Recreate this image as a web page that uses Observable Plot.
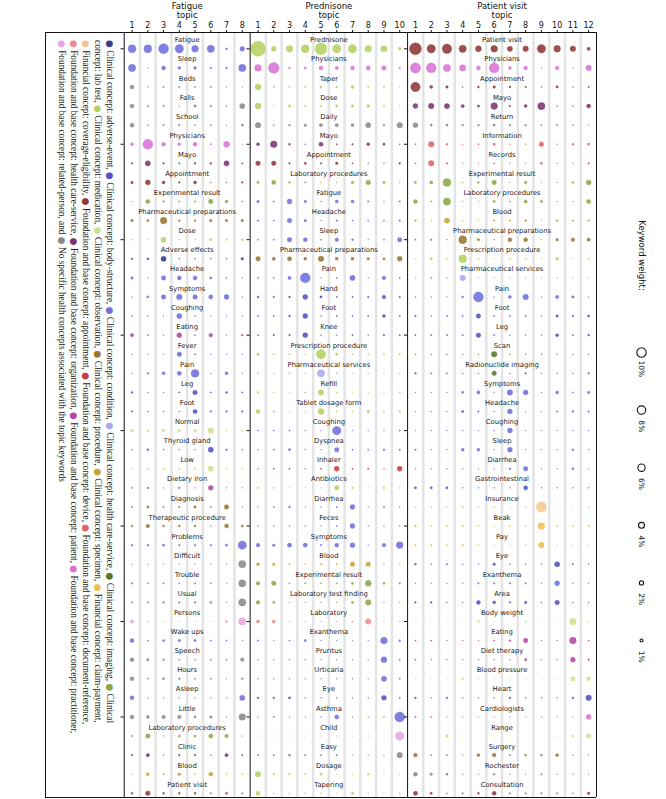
<!DOCTYPE html>
<html><head><meta charset="utf-8">
<script src="https://cdn.jsdelivr.net/npm/d3@7"></script>
<script src="https://cdn.jsdelivr.net/npm/@observablehq/plot@0.6"></script>
<style>
body{margin:0;background:#fff;}
#wrap{position:relative;width:666px;height:799px;font-family:"DejaVu Sans",sans-serif;}
#legend{position:absolute;left:116px;top:40px;transform-origin:0 0;transform:rotate(90deg);font-family:"Liberation Serif",serif;font-size:9.3px;line-height:12px;white-space:nowrap;color:#222;}
#legend .b{font-family:"DejaVu Sans",sans-serif;font-size:9px;}
</style></head><body><div id="wrap"><div id="legend"></div></div>
<script>
// ---------------- data ----------------
const topics = ["Fatigue", "Prednisone", "Patient visit"];
const topicColumns = [8, 10, 12];

const categoryCodes = ["AE","BS","CO","HS","IM","LT","ME","OB","PR","SP","CP","CE","AP","DE","DR","FH","OR","PA","PT","RP","NO"];
const categoryNames = [
  "Clinical concept: adverse-event","Clinical concept: body-structure","Clinical concept: condition",
  "Clinical concept: health care-service","Clinical concept: imaging","Clinical concept: lab test",
  "Clinical concept: medication","Clinical concept: observation","Clinical concept: procedure",
  "Clinical concept: specimen","Financial concept: claim-payment","Financial concept: coverage-eligibility",
  "Foundation and base concept: appointment","Foundation and base concept: device",
  "Foundation and base concept: document-reference","Foundation and base concept: health care-service",
  "Foundation and base concept: organization","Foundation and base concept: patient",
  "Foundation and base concept: practitioner","Foundation and base concept: related-person",
  "No specific health concepts associated with the topic keywords"];
const categoryColors = ["#3a3a8e","#5252c2","#6e6ede","#a9a9ee","#56782a","#8aa845","#b5d262","#cde290",
  "#9a7432","#caa136","#efbf4e","#f1c98f","#8e3737","#c43f3f","#e06262","#ea8d8d","#7c3474","#b148a4",
  "#d873d6","#e9a3e3","#8a8a8a"];

const fatigueKeywords = ["Fatigue","Sleep","Beds","Falls","School","Physicians","Mayo","Appointment","Experimental result","Pharmaceutical preparations","Dose","Adverse effects","Headache","Symptoms","Coughing","Eating","Fever","Pain","Leg","Foot","Normal","Thyroid gland","Low","Dietary iron","Diagnosis","Therapeutic procedure","Problems","Difficult","Trouble","Usual","Persons","Wake ups","Speech","Hours","Asleep","Little","Laboratory procedures","Clinic","Blood","Patient visit"];
const fatigueCategories = ["CO","CO","NO","NO","NO","PT","OR","AP","LT","PR","ME","AE","CO","CO","CO","PA","CO","CO","BS","BS","OB","BS","OB","PA","PR","PR","CO","NO","NO","NO","RP","CO","NO","NO","CO","NO","LT","OR","SP","AP"];
const fatigueWeights = [
  [7,7,11,8,5,6,0.4,2.5],[6,0.1,1.8,0.8,0.8,0.3,0.4,6],[1.8,0.1,0.3,0.3,0.3,0.3,0.1,0.1],[1.8,0.3,0.3,0.1,0.7,0.4,0.2,3],
  [1.8,0.2,0.3,0.3,0.2,0.2,0.1,0.6],[1,11,1.8,1,1.8,0.3,4,0.1],[0.3,3,0.3,0.2,0.4,0.4,3,0.2],[0.7,2.8,1,0.3,1,0.1,0.1,0.3],
  [0.1,2,0.4,0.3,0.3,2.3,1,0.2],[0.7,0.6,5,0.4,0.4,0.7,0.7,0.7],[0.2,0.1,3,0.2,0.1,0.6,0.3,0.4],[0.3,0.4,3,0.1,0.1,0.1,0.1,0.7],
  [0.7,0.1,2.3,1.8,1.8,0.6,0.2,0.1],[0.1,0.6,2.3,3.5,2.3,2,2.8,0.1],[0.2,0.1,0.1,3,0.2,0.1,0.1,0.1],[1.2,0.2,0.1,2.8,0.2,1.5,0.1,0.4],
  [0.1,0.1,0.1,2.3,0.3,0.1,0.1,0.1],[0.1,0.4,1,2,7,0.1,1,0.1],[0.4,0.1,0.1,0.2,2.3,0.2,0.4,0.2],[0.3,0.1,0.1,0.1,2,0.3,0.3,0.3],
  [1,0.6,1,1,1,4,0.2,0.3],[0.1,0.4,0.1,0.1,0.1,3,0.3,0.1],[0.2,0.4,0.4,0.4,0.4,3.5,0.3,0.3],[0.2,0.4,0.1,0.3,0.1,2.8,0.1,0.1],
  [0.2,0.6,0.2,0.3,0.7,0.2,2.3,0.1],[0.4,1.5,0.4,0.4,0.4,0.1,1.8,0.6],[0.4,0.4,0.6,0.3,0.3,0.3,0.6,8],[0.1,0.1,0.1,0.1,0.1,0.1,0.1,6],
  [0.4,0.2,0.3,0.2,0.3,0.2,0.1,6],[0.3,0.3,0.4,0.4,0.4,0.6,0.1,6],[1.2,0.2,0.1,0.1,0.1,0.1,0.7,6],[1.8,0.2,0.6,0.7,0.6,0.2,0.2,0.1],
  [1.8,0.7,0.4,0.2,0.2,0.2,0.2,1.5],[1.8,0.2,0.6,0.4,0.2,0.2,0.1,0.4],[1.8,0.1,0.1,0.1,0.1,0.1,0.1,3],[1.8,1,1.5,1.5,0.6,0.7,0.1,5],
  [0.3,2.3,0.1,0.6,0.6,2,1.5,0.1],[0.3,1.2,0.1,0.3,0.3,0.1,1.2,0.2],[0.1,1,0.2,1,0.1,1.8,0.1,0.1],[0.4,2.3,0.4,0.4,0.4,0.2,0.4,0.2]];

const prednisoneKeywords = ["Prednisone","Physicians","Taper","Dose","Daily","Mayo","Appointment","Laboratory procedures","Fatigue","Headache","Sleep","Pharmaceutical preparations","Pain","Hand","Foot","Knee","Prescription procedure","Pharmaceutical services","Refill","Tablet dosage form","Coughing","Dyspnea","Inhaler","Antibiotics","Diarrhea","Feces","Symptoms","Blood","Experimental result","Laboratory test finding","Laboratory","Exanthema","Pruritus","Urticaria","Eye","Asthma","Child","Easy","Dosage","Tapering"];
const prednisoneCategories = ["ME","PT","ME","ME","NO","OR","AP","LT","CO","CO","CO","PR","CO","BS","BS","BS","ME","HS","ME","ME","CO","CO","DE","ME","CO","CO","CO","SP","LT","LT","FH","CO","CO","CO","BS","CO","RP","NO","ME","ME"];
const prednisoneWeights = [
  [25,2.8,5,7,16,8,8,5,4.5,1],[5,13,0.4,0.6,1.8,1.2,1.8,2,2.3,0.3],[4,0.3,0.2,0.3,0.6,0.4,1.2,0.2,0.3,0.1],[4,0.1,0.7,0.3,0.4,0.7,0.7,1,0.3,0.1],
  [3.5,0.2,0.4,0.7,1.2,1.2,1,3,0.4,3.5],[1,5,0.4,0.1,2,0.2,0.3,1,0.6,0.1],[2.3,2.3,0.3,0.6,0.3,0.7,0.2,0.1,0.1,0.4],[0.6,2,0.4,0.2,0.1,0.1,0.7,2.3,0.6,0.1],
  [0.7,0.2,2.8,0.7,0.1,1,1,0.3,0.1,0.3],[0.3,0.2,2.3,0.7,0.1,0.3,0.2,0.2,0.2,0.3],[0.2,0.2,2.3,1.8,0.2,1.5,0.4,0.1,0.2,2.3],[2.3,1.2,2,1,3.5,1,1,0.7,0.6,2.8],
  [0.2,0.2,1.2,11,0.1,0.2,3,0.1,1.5,0.2],[0.4,0.3,0.4,2.8,0.6,0.2,0.2,0.3,1.5,0.3],[0.2,0.2,0.4,2.8,0.1,0.2,0.2,0.2,1,0.2],[0.2,0.3,0.3,2.8,0.1,0.1,0.2,0.1,0.3,0.2],
  [0.7,0.2,0.3,0.1,10,0.7,0.2,0.2,0.2,0.3],[0.2,0.1,0.2,0.1,6,0.2,0.1,0.1,0.1,0.1],[0.4,0.2,0.1,0.2,3.5,0.2,0.1,0.1,0.1,0.2],[1.8,0.3,0.1,0.1,4,0.2,0.2,0.7,0.2,0.4],
  [0.2,0.2,0.2,0.1,0.1,8,0.1,0.1,0.1,0.2],[0.1,0.2,0.6,0.1,0.1,2.3,0.2,0.2,0.4,0.3],[0.1,0.2,0.2,0.1,0.2,2.8,0.2,0.2,0.1,2.8],[0.3,0.2,0.1,0.1,0.1,2.3,0.4,0.1,0.4,0.2],
  [0.1,0.2,0.4,0.1,0.1,0.2,2.8,0.1,0.2,0.1],[0.1,0.1,0.1,0.1,0.1,0.2,2.8,0.1,0.1,0.1],[1.5,0.7,2,2,0.3,1.8,2.8,0.1,1.5,5],[1,0.7,0.2,0.1,0.2,0.2,2.3,2.3,0.1,0.1],
  [1.5,2.3,0.2,0.3,0.2,0.2,0.6,4,0.6,0.4],[1.5,0.6,0.1,0.1,0.1,0.1,0.6,3.5,0.1,0.1],[1.2,1.2,0.1,0.1,0.1,0.1,0.2,3.5,0.1,0.1],[0.3,0.1,0.2,0.6,0.1,0.1,0.1,0.1,5,0.4],
  [0.1,0.1,0.1,0.1,0.1,0.1,0.1,0.1,4,0.2],[0.1,0.1,0.1,0.1,0.1,0.1,0.1,0.1,3,0.2],[0.4,0.4,0.6,0.1,0.1,0.1,0.1,0.1,2.8,0.2],[0.1,0.2,0.1,0.1,0.1,2,0.1,0.1,0.1,11],
  [0.1,0.1,0.1,0.1,0.1,0.1,0.1,0.1,0.1,8],[0.3,0.3,0.6,0.3,0.3,0.3,0.1,0.1,0.1,3.5],[3.5,0.3,0.3,0.2,0.6,0.1,0.1,0.4,0.1,0.1],[1.8,0.2,0.2,0.2,0.2,0.1,0.7,0.1,0.1,0.2]];

const visitKeywords = ["Patient visit","Physicians","Appointment","Mayo","Return","Information","Records","Experimental result","Laboratory procedures","Blood","Pharmaceutical preparations","Prescription procedure","Pharmaceutical services","Pain","Foot","Leg","Scan","Radionuclide imaging","Symptoms","Headache","Coughing","Sleep","Diarrhea","Gastrointestinal","Insurance","Beak","Pay","Eye","Exanthema","Area","Body weight","Eating","Diet therapy","Blood pressure","Heart","Cardiologists","Range","Surgery","Rochester","Consultation"];
const visitCategories = ["AP","PT","AP","OR","NO","DR","DR","LT","LT","SP","PR","ME","HS","CO","BS","BS","IM","IM","CO","CO","CO","CO","CO","BS","CE","CP","CP","BS","CO","BS","OB","PA","PA","OB","BS","PT","OB","PR","NO","AP"];
const visitWeights = [
  [16,8,10,6,4,5,3,3.5,8,5,3.5,1.2],[12,11,6,4.5,1.8,11,1,1.8,0.1,1.5,0.1,3.5],[10,1,0.7,0.1,0.4,0.7,0.4,0.3,0.1,0.6,0.1,0.2],[2.8,3.5,3,1.2,0.6,5,0.3,1,6,0.1,0.1,1.8],
  [2.8,0.6,0.6,0.4,0.4,0.6,0.4,0.4,0.2,0.3,0.2,0.1],[0.2,3.5,0.4,0.1,0.2,0.6,0.1,0.1,2.3,0.1,0.4,0.6],[0.2,3.5,0.4,0.1,0.1,0.2,0.1,0.1,0.6,0.1,0.1,0.4],[0.6,1.2,7,0.1,0.4,2.3,0.1,0.7,0.1,0.1,0.4,2.8],
  [1.8,0.2,6,0.1,0.1,0.6,0.2,1.2,0.6,0.1,0.1,2],[0.4,0.1,3,0.1,0.1,0.3,0.3,0.6,0.1,0.4,0.3,0.4],[0.2,0.3,0.1,7,0.6,0.1,1.8,1.8,0.1,0.7,1.5,1.2],[0.1,0.7,0.2,7,0.2,0.1,0.2,0.2,0.1,1,0.1,0.2],
  [0.1,0.4,0.2,3.5,0.1,0.1,0.1,0.1,0.1,0.1,0.1,0.1],[0.1,0.1,0.1,0.4,11,0.1,1,3.5,0.1,1.2,0.7,0.1],[0.3,0.1,0.2,0.2,2.3,0.2,0.2,0.2,0.1,0.7,0.3,0.6],[0.2,0.2,0.2,0.2,2.3,0.2,0.1,0.1,0.1,1,0.2,0.4],
  [0.1,0.1,0.1,0.1,0.1,3.5,0.1,0.1,0.1,0.1,0.1,0.1],[0.4,0.2,0.2,0.1,0.1,2.3,0.1,0.3,0.1,0.1,0.1,0.3],[0.1,0.1,0.1,0.6,1.2,0.1,3.5,2.8,0.1,1,0.2,0.7],[0.1,0.1,0.1,0.7,0.3,0.1,2.8,0.1,0.1,0.3,0.4,0.3],
  [0.1,0.1,0.1,0.1,0.1,0.1,2.8,0.1,0.1,0.1,0.1,0.1],[0.3,0.1,0.1,1,1,0.1,2.8,0.1,0.1,0.1,0.4,0.1],[0.1,0.1,0.1,0.1,0.1,0.1,0.4,2.3,0.1,0.1,0.6,0.1],[0.6,0.6,0.6,0.1,0.1,0.1,0.1,2,0.1,0.1,0.1,0.1],
  [0.2,0.2,0.2,0.4,0.2,0.2,0.1,0.2,12,0.1,0.1,0.2],[0.4,0.2,0.3,0.2,0.2,0.1,0.2,0.2,5,0.2,0.2,0.3],[0.3,0.3,0.2,0.4,0.2,0.1,0.1,0.2,3.5,0.1,0.1,0.1],[0.4,0.1,0.2,0.1,0.1,0.7,0.1,0.1,0.1,3,0.2,0.1],
  [0.1,0.1,0.1,0.1,0.3,0.3,0.3,0.3,0.1,2.8,0.1,0.1],[0.3,0.4,0.1,0.1,1.8,1,0.3,0.7,0.1,2.3,0.1,0.1],[0.1,0.1,0.1,0.1,0.6,0.1,0.1,0.3,0.1,0.1,5,0.2],[0.2,0.2,0.1,0.1,0.1,0.2,0.4,2.3,0.1,0.1,5,0.2],
  [0.2,0.1,0.1,0.1,0.1,0.1,0.1,0.7,0.1,0.1,2.8,0.3],[0.1,0.1,0.1,0.4,0.1,0.1,0.1,0.1,0.1,0.1,2.3,1.8],[0.4,0.1,0.4,0.1,0.1,0.1,0.4,0.1,0.1,0.1,0.4,3.5],[0.4,0.3,0.1,0.1,0.1,0.1,0.1,0.1,0.1,0.1,0.1,2.8],
  [0.1,0.1,1,0.1,0.1,0.1,0.1,0.1,0.1,0.1,0.6,2.3],[1.5,0.2,0.2,0.1,1,1.5,0.2,0.4,0.4,1,0.1,0.1],[1.8,0.7,0.6,0.1,0.1,0.4,0.1,0.1,0.3,0.1,0.1,0.1],[2,0.6,0.1,0.2,0.4,1.8,0.2,0.2,0.2,0.2,0.1,0.7]];

const legendSizes = [10, 8, 6, 4, 2, 1];
const legendSizeLabels = ["10%", "8%", "6%", "4%", "2%", "1%"];

// ---------------- layout ----------------
const W = 666, H = 799;
const X0 = 123.7, X1 = 596, TOP = 32, BOTTOM = 797, BOXLEFT = 45;
const nCols = 30, colW = (X1 - X0) / nCols, rowH = 19.09, yPad = 0.854;
const yMin = -yPad, yMax = yMin + (BOTTOM - TOP) / rowH;
const px = p => (p - X0) / colW;           // pixel -> x units
const py = p => (p - TOP) / rowH + yMin;    // pixel -> y units

const panels = [
  {keywords: fatigueKeywords, cats: fatigueCategories, weights: fatigueWeights},
  {keywords: prednisoneKeywords, cats: prednisoneCategories, weights: prednisoneWeights},
  {keywords: visitKeywords, cats: visitCategories, weights: visitWeights}];
const colorOf = c => categoryColors[categoryCodes.indexOf(c)];

const offsets = [0, 8, 18];
const dots = [], labels = [], headers = [];
panels.forEach((p, k) => {
  const off = offsets[k], n = topicColumns[k];
  headers.push({x: off + n / 2, text: topics[k] + "\ntopic"});
  p.keywords.forEach((kw, r) => {
    labels.push({x: off + n / 2, row: r, text: kw});
    p.weights[r].forEach((w, c) => dots.push({x: off + c + 0.5, row: r, w, color: colorOf(p.cats[r])}));
  });
});
const colCenters = d3.range(nCols).map(i => i + 0.5);
const localLabel = d => { const i = Math.floor(d); return i < 8 ? i + 1 : i < 18 ? i - 7 : i - 17; };
const gridLines = d3.range(1, nCols).filter(i => i !== 8 && i !== 18);
const borders = [0, 8, 18, 30];
const tickRows = [0, 5, 10, 15, 20, 25, 30, 35];
const leftTicks = [];
[0, 8, 18].forEach(b => tickRows.forEach(r => leftTicks.push({b, row: r})));

const sizeLegend = legendSizes.map((s, i) => ({s, label: legendSizeLabels[i], y: py(352 + i * 57.6)}));

const chart = Plot.plot({
  width: W, height: H,
  marginLeft: X0, marginRight: W - X1, marginTop: TOP, marginBottom: H - BOTTOM,
  x: {domain: [0, nCols], range: [X0, X1]},
  y: {domain: [yMin, yMax], range: [TOP, BOTTOM], axis: null},
  r: {type: "sqrt", domain: [0, 10], range: [0, 4.7]},
  color: {type: "identity"},
  style: {fontFamily: "DejaVu Sans, sans-serif", background: "white"},
  marks: [
    Plot.ruleX(gridLines, {stroke: "#e4e4e4", strokeWidth: 2.5}),
    Plot.dot(dots, {x: "x", y: "row", r: "w", fill: "color", fillOpacity: 0.88, stroke: "color", strokeWidth: 0.4}),
    Plot.text(labels, {x: "x", y: d => d.row - 0.45, text: "text", fontSize: 6.8, fill: "#1a1a1a"}),
    Plot.ruleX(borders, {stroke: "#111", strokeWidth: 1}),
    Plot.ruleY([yMin, yMax], {x1: px(BOXLEFT), x2: nCols, stroke: "#111", strokeWidth: 1}),
    Plot.ruleX([px(BOXLEFT)], {stroke: "#111", strokeWidth: 1}),
    Plot.ruleY(leftTicks, {y: "row", x1: d => d.b - 0.2, x2: "b", stroke: "#111"}),
    Plot.axisX({anchor: "top", ticks: colCenters, tickFormat: localLabel, tickSize: 3, tickPadding: 1.5, fontSize: 8, label: null, color: "#111"}),
    Plot.text(headers, {x: "x", y: py(9.75), text: "text", fontSize: 8.5, lineHeight: 1.12, fill: "#111"}),
    Plot.text(["Keyword weight:"], {x: px(641), y: py(255), text: d => d, rotate: 90, fontSize: 8.5, fill: "#111"}),
    Plot.dot(sizeLegend, {x: px(641), y: "y", r: "s", stroke: "#111", strokeWidth: 1.1, fill: "none"}),
    Plot.text(sizeLegend, {x: px(641), y: d => d.y + 0.85, text: "label", rotate: 90, fontSize: 7.5, fill: "#111"})
  ]
});
document.getElementById("wrap").prepend(chart);
chart.style.position = "absolute"; chart.style.left = "0"; chart.style.top = "0";

// rotated colour legend
const lines = [
  [[0,"Clinical concept: adverse-event, "],[1,"Clinical concept: body-structure, "],[2,"Clinical concept: condition, "],[3,"Clinical concept: health care-service, "],[4,"Clinical concept: imaging, "],[5,"Clinical"]],
  [[null,"concept: lab test, "],[6,"Clinical concept: medication, "],[7,"Clinical concept: observation, "],[8,"Clinical concept: procedure, "],[9,"Clinical concept: specimen, "],[10,"Financial concept: claim-payment,"]],
  [[11,"Financial concept: coverage-eligibility, "],[12,"Foundation and base concept: appointment, "],[13,"Foundation and base concept: device, "],[14,"Foundation and base concept: document-reference,"]],
  [[15,"Foundation and base concept: health care-service, "],[16,"Foundation and base concept: organization, "],[17,"Foundation and base concept: patient, "],[18,"Foundation and base concept: practitioner,"]],
  [[19,"Foundation and base concept: related-person, and "],[20,"No specific health concepts associated with the topic keywords"]]];
const leg = document.getElementById("legend");
leg.style.zIndex = 2;
leg.innerHTML = lines.map(line => "<div>" + line.map(([ci, t]) =>
  (ci === null ? "" : `<span class="b" style="color:${categoryColors[ci]}">●</span> `) + t).join("") + "</div>").join("");
</script></body></html>
